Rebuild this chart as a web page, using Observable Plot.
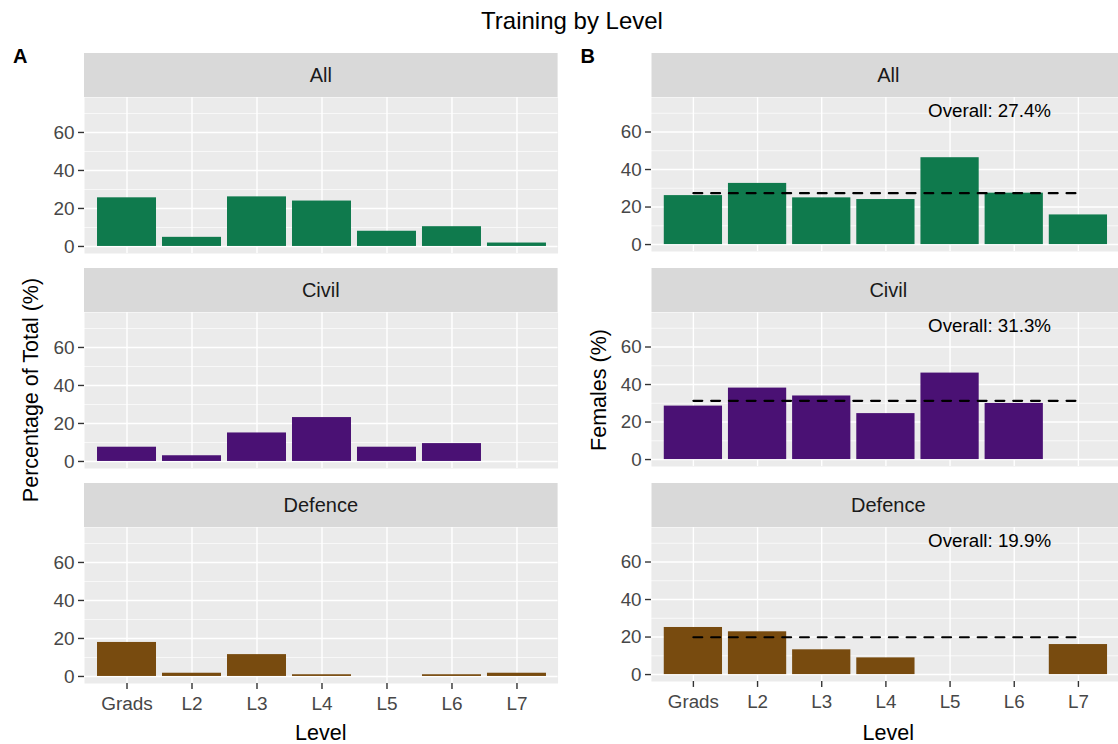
<!DOCTYPE html>
<html><head><meta charset="utf-8">
<script src="https://cdn.jsdelivr.net/npm/d3@7"></script>
<script src="https://cdn.jsdelivr.net/npm/@observablehq/plot@0.6"></script>
<style>
html,body{margin:0;padding:0;background:#fff;overflow:hidden;}
#chart{position:relative;width:1118px;height:744px;overflow:hidden;font-family:"Liberation Sans",Arial,sans-serif;}
#chart > div, #chart > svg{position:absolute;}
#chart svg{overflow:visible;}
[aria-label="y-axis tick label"], [aria-label="x-axis tick label"]{fill:#474747;}
</style></head><body><div id="chart"></div>
<script>
// ---- data ----
const levels = ["Grads", "L2", "L3", "L4", "L5", "L6", "L7"];
const groups = ["All", "Civil", "Defence"];
// Panel A: percentage of total trainees
const totalAll     = [25.6, 4.8, 26.1, 23.9, 8.0, 10.4, 1.8];
const totalCivil   = [7.5, 3.0, 15.0, 23.1, 7.5, 9.4, null];
const totalDefence = [17.9, 1.7, 11.5, 0.9, null, 0.9, 1.7];
// Panel B: females (%)
const femAll       = [26.1, 32.6, 24.9, 24.0, 46.3, 27.4, 15.8];
const femCivil     = [28.5, 38.1, 33.9, 24.5, 46.1, 29.9, null];
const femDefence   = [25.1, 22.8, 13.2, 8.9, null, null, 16.0];
const overall      = [27.4, 31.3, 19.9];
const yTicks = [0, 20, 40, 60];
const yMinor = [10, 30, 50, 70];
const colors = ["#0F7A4D", "#4A1174", "#784B0F"];

// ---- layout ----
const chart = document.getElementById("chart");
const panelW = 473.6, panelH = 156, mL = 84;
const rowTops = [97, 312, 527];
const stripTops = [53, 268, 483];
const colLefts = [0, 567.5];
const FONT = "Liberation Sans, Arial, sans-serif";

function makePanel(vals, color, ov, bottom) {
  const data = levels.map((l, i) => ({level: l, value: vals[i]})).filter(d => d.value != null);
  const marks = [
    Plot.frame({fill: "#EBEBEB", stroke: null}),
    Plot.gridY(yMinor, {stroke: "#fff", strokeOpacity: 1, strokeWidth: 0.7}),
    Plot.gridY(yTicks, {stroke: "#fff", strokeOpacity: 1, strokeWidth: 1.4}),
    Plot.gridX(levels, {stroke: "#fff", strokeOpacity: 1, strokeWidth: 1.4}),
    Plot.barY(data, {x: "level", y: "value", fill: color}),
    Plot.axisY(yTicks, {tickSize: 6, tickPadding: 4, fontSize: 19, color: "#333", strokeWidth: 1.4, label: null})
  ];
  if (ov != null) {
    marks.push(Plot.line([{x: levels[0], y: ov}, {x: levels[levels.length - 1], y: ov}],
      {x: "x", y: "y", stroke: "#000", strokeWidth: 2.2, strokeDasharray: "9,9"}));
    marks.push(Plot.text([`Overall: ${ov.toFixed(1)}%`],
      {x: () => "L6", y: () => 71, dx: -25, text: d => d, fontSize: 19, fill: "#000"}));
  }
  if (bottom) {
    marks.push(Plot.axisX(levels, {tickSize: 6, tickPadding: 7, fontSize: 19, color: "#333", strokeWidth: 1.4, label: null}));
  }
  return Plot.plot({
    width: mL + panelW,
    height: panelH + (bottom ? 61 : 0),
    marginLeft: mL, marginRight: 0, marginTop: 0, marginBottom: bottom ? 61 : 0,
    style: {fontFamily: FONT, background: "transparent", overflow: "visible"},
    x: {type: "band", domain: levels, paddingInner: 0.1, paddingOuter: 0.15, ...(bottom ? {} : {axis: null})},
    y: {domain: [-3.7, 78.4]},
    marks
  });
}

// overlay for titles and strips
const W = 1130, H = 744;
const svg = d3.create("svg").attr("width", W).attr("height", H)
  .style("left", "0px").style("top", "0px").style("font-family", FONT);
svg.append("text").attr("x", 572).attr("y", 29).attr("text-anchor", "middle")
  .attr("font-size", 24).attr("fill", "#000").text("Training by Level");
["A", "B"].forEach((t, c) => svg.append("text").attr("x", 13 + colLefts[c]).attr("y", 63)
  .attr("font-size", 20).attr("font-weight", "bold").attr("fill", "#000").text(t));
const yTitles = ["Percentage of Total (%)", "Females (%)"];
yTitles.forEach((t, c) => {
  const x = 31 + colLefts[c];
  svg.append("text").attr("transform", `translate(${x},390) rotate(-90)`)
    .attr("text-anchor", "middle").attr("dominant-baseline", "central")
    .attr("font-size", 21.5).attr("fill", "#000").text(t);
  svg.append("text").attr("x", colLefts[c] + mL + panelW / 2).attr("y", 740)
    .attr("text-anchor", "middle").attr("font-size", 21.5).attr("fill", "#000").text("Level");
  groups.forEach((g, r) => {
    svg.append("rect").attr("x", colLefts[c] + mL).attr("y", stripTops[r])
      .attr("width", panelW).attr("height", 44).attr("fill", "#D9D9D9");
    svg.append("text").attr("x", colLefts[c] + mL + panelW / 2).attr("y", stripTops[r] + 22)
      .attr("text-anchor", "middle").attr("dominant-baseline", "central")
      .attr("font-size", 20).attr("fill", "#1A1A1A").text(g);
  });
});
chart.appendChild(svg.node());

const series = [[totalAll, totalCivil, totalDefence], [femAll, femCivil, femDefence]];
series.forEach((col, c) => {
  col.forEach((vals, r) => {
    const wrap = document.createElement("div");
    wrap.style.left = colLefts[c] + "px";
    wrap.style.top = rowTops[r] + "px";
    wrap.appendChild(makePanel(vals, colors[r], c === 1 ? overall[r] : null, r === 2));
    chart.appendChild(wrap);
  });
});
</script></body></html>
